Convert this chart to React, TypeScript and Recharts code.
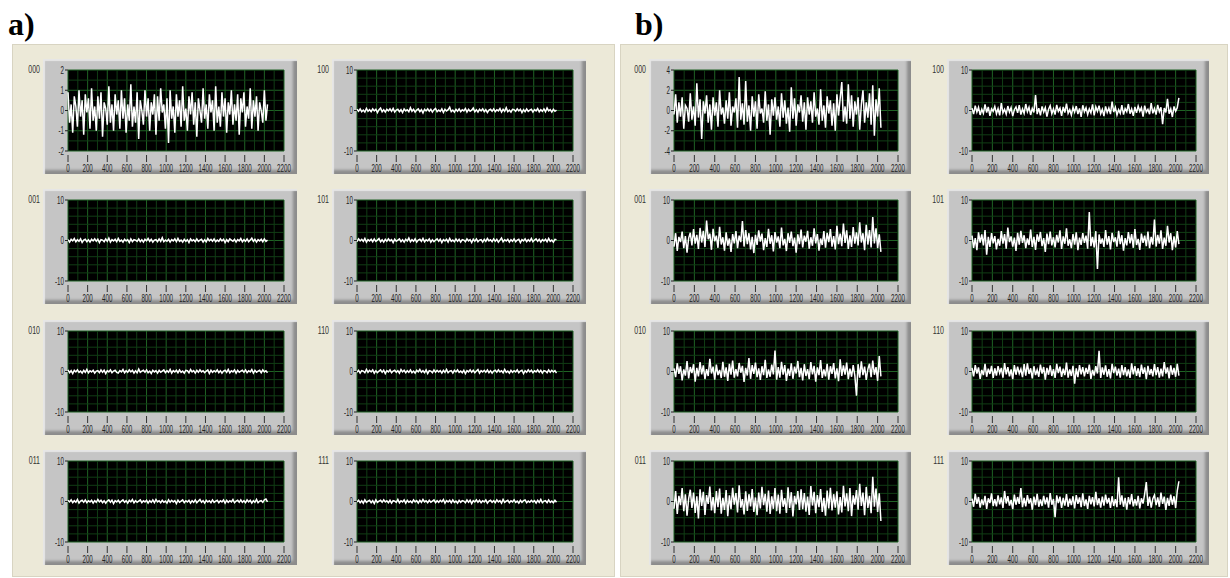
import { LineChart, Line, XAxis, YAxis, CartesianGrid, ReferenceLine } from "recharts";

// one plotted point per 16 acquired samples
const SAMPLE_STEP = 16;

const xTicks = [0, 200, 400, 600, 800, 1000, 1200, 1400, 1600, 1800, 2000, 2200];
const xMinor = [100, 300, 500, 700, 900, 1100, 1300, 1500, 1700, 1900, 2100];

const wideTicks = [-10, 0, 10];
const wideMinor = [-8, -6, -4, -2, 2, 4, 6, 8];
const narrowTicks = [-2, -1, 0, 1, 2];
const narrowMinor = [-1.5, -0.5, 0.5, 1.5];
const midTicks = [-4, -2, 0, 2, 4];
const midMinor = [-3, -1, 1, 3];

// a) channel outputs
const a000 = [
  .9, -.6, .3, -1.1, .7, .2, -.8, 1, -.3, .5, -1.2, .8, -.1, .6, -.9, 1.1,
  -.5, .2, -1, .7, -.4, .9, -1.3, .4, .1, -.7, 1.2, -.6, .3, -1, .8, -.2,
  .5, -.9, 1, -.4, .6, -1.1, .3, -.5, 1.3, -.8, .2, -.6, .9, -1.4, .5, 0,
  -.7, 1, -.3, .6, -1, .4, -.2, .8, -1.2, .7, -.5, 1.1, -.1, .3, -.9, .6,
  -1.6, 1, -.4, .2, -1.1, .8, -.3, .5, -.8, 1.2, -.5, .1, -1, .7, -.2, .9,
  -.7, .4, -1.3, .6, 0, -.6, 1.1, -.4, .3, -.9, .8, -.1, .5, -1, 1.2, -.6,
  .2, -.8, .9, -.3, .6, -1.1, .4, -.2, 1, -.7, .3, -.5, .8, -1.2, .6, -.1,
  .9, -.8, .2, -.4, 1.1, -.9, .5, -.3, .7, -1, .4, 0, -.6, 1, -.5, .3,
];
const a100 = [
  .3, -.2, .4, -.3, .1, -.4, .5, -.2, .2, -.3, .4, -.1, .3, -.5, .2, .6,
  -.3, .2, -.4, .3, -.1, .4, -.2, .5, -.4, .1, .3, -.3, .2, -.5, .4, -.1,
  .2, -.3, .7, -.2, .3, -.4, .1, .4, -.3, .2, -.6, .3, -.1, .4, -.2, .3,
  -.4, .2, .5, -.3, .1, -.2, .4, -.5, .3, -.1, .2, .8, -.3, .1, -.4, .3,
  -.2, .4, -.3, .2, -.1, .5, -.4, .3, -.2, .1, .6, -.3, .2, -.4, .3, -.1,
  .4, -.3, .2, -.5, .1, .3, -.2, .4, -.3, .2, -.1, .5, -.4, .3, -.2, .7,
  -.3, .1, -.4, .3, .2, -.2, .4, -.1, .3, -.5, .2, -.3, .4, -.2, .1, .3,
  -.4, .2, -.1, .5, -.3, .2, -.2, .4, -.3, .6, -.1, .2, -.4, .3, -.2, .1,
];
const a001 = [
  .2, -.4, .3, -.1, .5, -.3, .2, -.2, .4, -.5, .1, .3, -.3, .2, -.4, .3,
  -.1, .4, -.2, .3, -.5, .2, .1, -.3, .4, -.2, .6, -.4, .2, -.1, .3, -.3,
  .5, -.2, .1, -.4, .3, -.1, .2, -.5, .4, -.3, .2, .1, -.2, .4, -.3, .2,
  -.4, .3, -.1, .5, -.2, .3, -.4, .1, .2, -.3, .4, -.2, .7, -.3, .1, -.2,
  .3, -.4, .2, -.1, .4, -.3, .5, -.2, .1, -.4, .3, -.2, .2, -.5, .4, -.1,
  .2, -.3, .4, -.2, .1, .3, -.4, .2, -.3, .5, -.1, .3, -.2, .4, -.3, .1,
  -.2, .4, -.1, .3, -.5, .2, -.3, .4, .1, -.2, .3, -.4, .2, -.1, .5, -.3,
  .2, -.2, .4, -.3, .1, .6, -.2, .3, -.4, .2, -.1, .3, -.3, .4, -.2, .1,
];
const a101 = [
  -.3, .4, -.1, .3, -.2, .5, -.4, .2, -.1, .3, -.3, .4, -.2, .1, .5, -.3,
  .2, -.4, .3, -.2, .4, -.1, .2, -.5, .3, -.2, .1, .4, -.3, .2, -.4, .3,
  -.1, .6, -.3, .2, -.2, .4, -.4, .1, .3, -.2, .5, -.3, .2, -.1, .4, -.4,
  .2, -.3, .1, .4, -.2, .3, -.5, .2, -.1, .3, -.4, .5, -.2, .1, -.3, .4,
  -.2, .3, -.4, .2, .1, -.3, .4, -.1, .2, -.5, .3, -.2, .4, -.3, .1, .2,
  -.4, .3, -.2, .5, -.1, .2, -.3, .4, -.2, .3, -.4, .1, .6, -.3, .2, -.1,
  .3, -.4, .2, -.2, .4, -.3, .1, .3, -.5, .2, -.1, .4, -.3, .2, -.2, .5,
  -.3, .1, .4, -.2, .3, -.4, .2, -.1, .3, -.3, .5, -.2, .1, -.4, .3, .2,
];
const a010 = [
  .4, -.3, .2, -.5, .3, -.1, .4, -.2, .1, -.4, .3, -.2, .5, -.3, .2, -.1,
  .3, -.4, .1, .2, -.3, .4, -.2, .3, -.5, .2, -.1, .4, -.3, .1, .3, -.2,
  -.4, .2, -.1, .5, -.3, .2, -.2, .4, -.1, .3, -.4, .2, -.3, .6, -.2, .1,
  .3, -.2, .4, -.3, .1, -.5, .3, -.1, .2, -.4, .3, -.2, .1, .4, -.3, .2,
  -.2, .5, -.4, .2, -.1, .3, -.3, .4, -.2, .1, -.4, .3, .2, -.3, .5, -.1,
  .2, -.4, .3, -.2, .4, -.1, .2, -.3, .1, .4, -.5, .3, -.2, .2, -.1, .4,
  -.3, .2, -.4, .1, .3, -.2, .5, -.3, .2, -.1, .4, -.4, .3, -.2, .1, .3,
  -.2, .4, -.3, .2, -.1, .5, -.4, .3, -.2, .1, .3, -.3, .4, -.1, .2, -.3,
];
const a110 = [
  -.2, .3, -.4, .2, .1, -.3, .5, -.2, .3, -.1, .4, -.4, .2, -.3, .1, .4,
  -.2, .3, -.5, .2, -.1, .4, -.3, .1, .3, -.2, .2, -.4, .5, -.1, .3, -.3,
  .2, -.2, .4, -.3, .1, -.4, .3, -.1, .5, -.2, .2, -.3, .4, -.5, .2, .1,
  -.3, .4, -.2, .3, -.1, .2, -.4, .3, -.2, .5, -.3, .1, .2, -.4, .3, -.1,
  .4, -.2, .1, -.3, .3, -.5, .2, -.1, .4, -.2, .3, -.3, .1, .5, -.4, .2,
  -.1, .3, -.2, .4, -.3, .2, -.4, .1, .3, -.2, .4, -.1, .2, -.3, .5, -.2,
  .1, -.4, .3, -.2, .2, -.1, .4, -.3, .1, .3, -.5, .2, -.2, .4, -.1, .3,
  -.3, .2, -.1, .4, -.2, .3, -.4, .2, .1, -.3, .4, -.2, .3, -.1, .2, -.4,
];
const a011 = [
  .3, -.1, .4, -.3, .2, -.2, .5, -.4, .1, .3, -.2, .4, -.3, .2, -.1, .3,
  -.4, .2, -.2, .5, -.1, .3, -.3, .2, -.4, .1, .4, -.2, .3, -.5, .2, -.1,
  .3, -.3, .1, .4, -.2, .2, -.4, .3, -.1, .5, -.3, .2, -.2, .1, .4, -.3,
  .2, -.1, .3, -.4, .2, -.2, .4, -.3, .5, -.1, .2, -.3, .3, -.2, .1, -.4,
  .4, -.2, .3, -.1, .2, -.5, .3, -.2, .1, .4, -.3, .2, -.1, .3, -.4, .2,
  -.2, .4, -.3, .1, .5, -.2, .2, -.4, .3, -.1, .2, -.3, .4, -.2, .1, .3,
  -.3, .2, -.1, .4, -.4, .3, -.2, .2, -.1, .5, -.3, .1, .3, -.2, .4, -.2,
  .2, -.3, .4, -.1, .3, -.4, .2, -.2, .5, -.3, .1, .2, -.2, .4, .6, -.1,
];
const a111 = [
  -.1, .3, -.3, .2, -.4, .4, -.2, .1, .3, -.3, .2, -.5, .4, -.2, .1, .3,
  -.2, .4, -.1, .2, -.3, .3, -.4, .2, .1, -.2, .5, -.3, .2, -.1, .4, -.4,
  .3, -.2, .1, -.3, .4, -.1, .2, -.4, .3, -.2, .5, -.1, .2, -.3, .3, -.2,
  .1, .4, -.3, .2, -.2, .3, -.1, .5, -.4, .2, -.1, .3, -.3, .4, -.2, .1,
  -.4, .3, -.2, .2, .1, -.3, .4, -.2, .3, -.5, .2, -.1, .4, -.2, .3, -.3,
  .2, -.1, .4, -.4, .1, .3, -.2, .2, -.3, .4, -.1, .2, -.4, .5, -.2, .1,
  .3, -.3, .2, -.1, .4, -.2, .1, -.4, .3, -.2, .2, .4, -.3, .1, -.2, .3,
  -.1, .2, -.4, .3, -.2, .5, -.3, .1, .2, -.3, .4, -.2, .1, -.3, .3, -.2,
];

// b) channel outputs
const b000 = [
  -.4, 1.6, -1.2, .8, -.6, 1.3, -1.8, .5, .2, -1.1, 1.7, -.9, .4, -1.5, 2.7, -.7,
  1.1, -2.8, .9, -.3, 1.5, -1.2, .6, -1.9, 1.3, -.5, .8, -1.6, 2, -.4, .3, -1.3,
  1, -.8, 1.8, -1.5, .4, -.2, 1.2, -1.7, 3.3, -.9, .7, -1.4, 2.9, -1.1, .5, -2,
  1.4, -.6, .9, -1.8, 1.6, -.3, .2, -1.2, 1.9, -1, .6, -2.4, 1.1, -.5, 1.3, -.9,
  .4, -1.6, 1.7, -.7, 1, -1.3, .3, -2.1, 2.3, -.8, 1.2, -1.5, .6, -.2, 1.5, -1.1,
  .8, -1.9, 1.3, -.4, .9, -1.2, 1.8, -.6, .2, -1.4, 2.1, -1, .5, -1.7, 1.4, -.3,
  1, -1.5, .7, -2, 1.6, -.5, 1.2, 2.8, -1.1, .4, -1.3, 2.6, -.8, 1.5, -1.6, .9,
  -.4, 1.3, -1.9, .6, 2, -1.2, .8, -.7, 1.7, -1.4, 2.5, -2.5, 1.1, -.6, 2.2, -1.7,
];
const b100 = [
  .6, -.9, 1.2, -.4, .8, -1.1, .3, -.7, 1.5, -.5, .9, -1.3, .4, -.2, 1, -.8,
  .5, -1.2, 1.8, -.6, .3, -.9, 1.1, -.4, .7, -1.4, .2, .9, -.6, 1.3, -1, .4,
  -.7, 1.6, -.3, .8, -1.1, .5, -.5, 3.8, -.9, .6, -1.2, 1, -.4, .7, -1.5, .3,
  1.2, -.8, .4, -1, 1.4, -.2, .6, -1.3, .9, -.5, 1.7, -.7, .2, -1.1, .8, -.4,
  1.1, -.9, .5, -1.6, 1.3, -.3, .7, -1, .4, -.6, 1.5, -1.2, .9, -.2, 1.2, -.8,
  .3, -1.4, 1, -.5, .6, -.9, 2.2, -.4, .8, -1.1, .2, -.7, 1.3, -1, .5, -.3,
  1.6, -.8, .4, -1.3, .9, -.6, 1.1, -.2, .7, -1.5, 1.2, -.4, .3, -.9, 1.8, -.7,
  .5, -1, 1.4, -.3, .8, -3.4, .6, -.5, 2.9, -.8, .4, -1.6, 1, -.2, .7, 3.1,
];
const b001 = [
  -1.5, 1.8, -2.6, .9, -.4, 2.2, -1.9, 1.1, -3, .6, 1.9, -1.2, 2.8, -.8, 1.4, -2.1,
  3.1, -.5, 2.4, -1.6, 4.9, .3, 1.7, -2.3, 2.9, -.2, 1.2, -1.8, 3.4, -1, .8, -2.5,
  2, -1.3, .5, -2.8, 1.6, -.7, 2.3, -1.9, 1.2, -.4, 4.8, -1.5, 2.6, -.9, 1.8, -2.2,
  .9, -3.1, 1.4, -1.1, 2.5, -.3, 1.7, -2.4, .6, -1.6, 2.9, -.8, 1.3, -2.7, 2.1, -.5,
  1, -1.9, 3.2, -1.2, .4, -2.6, 1.8, -.6, 2.2, -1.4, .7, -3, 1.5, -.9, 2.7, -1.7,
  1.2, -.3, 2.4, -2, .8, -1.3, 3, -.7, 1.6, -2.5, .5, -1.1, 2.3, -1.8, 1.9, -.4,
  2.8, -1.5, 1.1, -2.2, 3.6, -.9, 1.7, -1.4, 4.2, -.6, 2.5, -2.1, 1.3, -1.6, 3.3, -.8,
  2, -1.2, 4.5, -.5, 1.8, -2.4, 3.9, -1, 2.6, -1.7, 5.8, -.7, 3, -1.9, 1.5, -2.8,
];
const b101 = [
  1.2, -1.8, .6, -2.4, 2, -.5, 1.5, -1.2, 2.6, -3.5, .9, -1.6, 1.8, -.7, 1.1, -2.2,
  .4, -1.3, 2.3, -.8, 1.6, -2, 3.2, -.4, 1, -1.5, .7, -2.6, 1.9, -1, 2.4, -.6,
  1.3, -1.9, .5, -1.1, 2.7, -1.6, .9, -2.3, 1.5, -.3, 2.1, -1.4, .6, -2.8, 1.7, -.9,
  2.2, -1.2, .8, -1.7, 1.4, -.5, 2.5, -2.1, 1, -.8, 3, -1.3, .3, -1.9, 1.6, -1,
  2, -2.4, .7, -1.1, 1.8, -.6, 1.2, -2, 7, -1.4, .9, -1.7, 2.3, -7, 1.5, -.8,
  .5, -1.6, 2.6, -1, 1.1, -2.2, 1.9, -.4, .8, -1.5, 2.4, -.9, 1.3, -2.5, .6, -1.2,
  2.1, -.7, 1.6, -1.8, 2.8, -1.1, .4, -2.3, 1.7, -.6, 1.2, -1.4, 2.2, -1.9, .9, -1,
  5.2, -1.5, 1.4, -.8, 2.5, -2.1, .7, -1.3, 3.6, -.5, 1.8, -2.4, 1, -1.7, 2.3, -.9,
];
const b010 = [
  .8, -1.4, 2, -.6, 1.3, -2.2, .5, -1, 2.6, -1.7, 1.1, -.4, 1.8, -2.5, .9, -1.2,
  2.3, -.7, 1.5, -1.9, .6, -1.1, 3.1, -.5, 1.2, -2, 1.7, -.9, .4, -1.6, 2.4, -1.3,
  1, -2.3, 1.9, -.8, 2.7, -1.5, .6, -1.2, 2.1, -.3, 1.4, -2.6, .9, -1, 3.3, -1.8,
  1.6, -.6, 2.2, -1.4, .8, -2.1, 1.3, -.9, 2.9, -1.6, .5, -1.3, 1.7, -.7, 5.2, -2,
  1.1, -1.5, 2.4, -.8, 1.6, -2.3, .7, -1.1, 2, -1.8, 1.2, -.5, 2.6, -1.4, .9, -2.2,
  1.8, -1.1, .6, -1.9, 2.3, -.7, 1.4, -2.5, 1, -.9, 2.8, -1.6, .5, -1.2, 1.9, -2,
  1.3, -.6, 2.1, -1.7, .8, -2.4, 3, -1.1, 1.5, -.8, 2.2, -1.9, .7, -1.3, 1.6, -1,
  -6, 1.8, -1.5, 2.5, -.9, 1.2, -2.1, .6, 1.9, -1.4, 2.7, -.8, 1.1, -2.3, 3.8, -1.2,
];
const b110 = [
  .9, -1.2, 1.6, -.5, 1, -1.8, .4, -.9, 1.9, -1.3, .7, -.6, 1.4, -1.6, .8, -1,
  1.3, -.4, .9, -1.5, 2.1, -.7, 1.1, -1.2, .5, -1.9, 1.6, -.8, 1.2, -.5, .6, -1.4,
  1.8, -1, 2, -.6, .8, -1.7, 1.3, -.9, .4, -1.3, 1.7, -.5, 1.1, -2, .9, -.8,
  1.5, -1.1, .6, -1.6, 1.9, -.4, 1.2, -1.3, .7, -.9, 2.2, -1.5, .5, -1.1, 1.4, -3,
  .8, -1.4, 1.6, -.7, 1.1, -1.2, .9, -.6, 1.7, -1.8, .4, -1, 1.3, -.5, 5.1, -1.6,
  1, -.8, 1.5, -1.3, .6, -1.7, 1.9, -.4, 1.2, -1, .7, -1.5, 1.6, -.9, 1.1, -1.2,
  .5, -1.6, 2, -.7, 1.3, -1.1, .8, -1.4, 1.7, -.6, 1, -1.9, 1.4, -.8, .6, -1.2,
  1.8, -.9, 1.1, -1.5, .7, -1.2, 2.3, -.5, 1, -1.7, 1.5, -.8, .9, -1.3, 1.9, -1,
];
const b011 = [
  -1.8, 2.6, -3.1, 1.4, -.9, 3.3, -2.4, 1.8, -3.5, .7, 2.9, -1.6, 2.2, -2.8, 1.3, -4.2,
  3, -1.1, 2.4, -3.3, 1.6, -.6, 3.7, -2.2, 1.1, -2.9, 2.6, -1.4, 3.2, -3, .9, -2.1,
  2.8, -3.6, 1.5, -1.9, 3.4, -.8, 2.1, -2.7, 4, -1.5, .6, -3.2, 2.5, -2.3, 1.8, -1.2,
  3.1, -2.6, 1, -3.4, 2.2, -1.7, 3.6, -.9, 1.9, -2.5, 2.7, -3.1, 1.3, -1.8, 3.3, -2.4,
  1.7, -3, 2.9, -1.3, .8, -2.8, 3.5, -1.6, 2.3, -3.7, 1.4, -.7, 2.6, -2.1, 3, -1.9,
  2.1, -2.5, 1.2, -3.3, 3.8, -1, 2.4, -2.9, 1.6, -1.4, 3.1, -2.6, .9, -3.5, 2.7, -1.7,
  3.4, -2.2, 1.8, -1.5, 2.5, -3.2, 1.1, -2.7, 3.9, -1.2, 2, -2.4, 3.3, -3.6, 1.5, -.8,
  2.8, -2, 4.4, -1.1, 2.2, -3.4, 3.6, -1.6, 1.4, -2.9, 6.1, -1.3, 3.2, -2.6, 2, -4.8,
];
const b111 = [
  .7, -1.3, 1.9, -.6, 1.1, -1.5, .5, -.9, 1.4, -1.8, .8, -.4, 2, -1.1, .6, -1.2,
  1.5, -.7, 1, -1.6, 2.6, -.5, 1.3, -1, .4, -1.9, 1.7, -.8, 1.1, -.6, 3.3, -1.4,
  .9, -1.2, 1.6, -.5, .8, -2, 1.2, -.9, 1.9, -1.3, .5, -1.1, 1.4, -.7, 1, -1.5,
  2.1, -.8, .6, -3.9, 1.5, -.4, 1.2, -1.6, .9, -1, 1.8, -1.3, .7, -.9, 1.3, -1.7,
  1.6, -.6, 1, -1.4, 2, -1.1, .5, -1.8, 1.4, -.7, 1.1, -1.2, 2.4, -.9, .8, -1.5,
  1.2, -1, 1.7, -.5, .9, -1.6, 1.3, -1.1, .6, -1.4, 6, -.8, 1.5, -1.3, .9, -2,
  1.1, -.7, 1.8, -1.2, .6, -1, 1.4, -1.7, .8, -.5, 1.9, 4.8, -1.1, 1.2, -1.5, .7,
  1.6, -.9, 1, -1.3, 2.2, -.6, 1.2, -2.1, .9, -1.1, 1.7, -.8, 1.3, -1.6, 2.6, 5,
];

const PANEL_BG = "#ece9d8";
const MINOR = "#113d15";
const MAJOR = "#1f6324";
const FRAME_H = 115;
const ROW_TOPS = [59, 189, 320, 450];
const smallFont = "'Liberation Sans', Arial, sans-serif";

type FrameProps = {
  label: string;
  values: number[];
  yTicks: number[];
  yMinor: number[];
  left: number;
  top: number;
  width: number;
};

const XTick = (props: any) => {
  const { x, y, payload } = props;
  return (
    <g transform={`translate(${x},${y})`}>
      <line x1={0} x2={0} y1={2} y2={9} stroke="#333" />
      <text y={19} textAnchor="middle" transform="scale(0.62,1)" fontSize={10} fill="#222" fontFamily={smallFont}>
        {payload.value}
      </text>
    </g>
  );
};

const YTick = (props: any) => {
  const { x, y, payload } = props;
  return (
    <g transform={`translate(${x},${y})`}>
      <text dy="0.35em" textAnchor="end" transform="scale(0.62,1)" fontSize={10} fill="#222" fontFamily={smallFont}>
        {payload.value}
      </text>
    </g>
  );
};

function Frame({ label, values, yTicks, yMinor, left, top, width }: FrameProps) {
  const data = values.map((v, i) => ({ t: i * SAMPLE_STEP, v }));
  return (
    <>
      <div
        style={{
          position: "absolute",
          left: left - 40,
          top: top + 5,
          width: 37,
          textAlign: "right",
          fontFamily: smallFont,
          fontSize: 10,
          color: "#333",
          transform: "scaleX(0.7)",
          transformOrigin: "right top",
        }}
      >
        {label}
      </div>
      <div
        style={{
          position: "absolute",
          left,
          top,
          width,
          height: FRAME_H,
          background: "#c5c5c5",
          boxShadow: "inset 2px 2px 1px #e6e6e6, inset -4px -4px 3px #8c8c8c",
        }}
      >
        <LineChart width={width} height={FRAME_H} data={data} margin={{ top: 11, right: 13, bottom: 0, left: 0 }}>
          <CartesianGrid fill="#000" stroke={MAJOR} />
          <XAxis
            dataKey="t"
            type="number"
            domain={[0, 2200]}
            ticks={xTicks}
            interval={0}
            height={23}
            tickSize={0}
            tickLine={false}
            axisLine={false}
            tick={XTick}
          />
          <YAxis
            type="number"
            domain={[yTicks[0], yTicks[yTicks.length - 1]]}
            ticks={yTicks}
            interval={0}
            width={25}
            tickSize={3}
            tickMargin={1}
            axisLine={false}
            tickLine={{ stroke: "#222" }}
            tick={YTick}
            allowDataOverflow
          />
          {xMinor.map((v) => (
            <ReferenceLine key={"x" + v} x={v} stroke={MINOR} />
          ))}
          {yMinor.map((v) => (
            <ReferenceLine key={"y" + v} y={v} stroke={MINOR} />
          ))}
          <Line type="linear" dataKey="v" stroke="#fff" strokeWidth={1.5} dot={false} isAnimationActive={false} />
        </LineChart>
      </div>
    </>
  );
}

const panelA = [
  { label: "000", values: a000, yTicks: narrowTicks, yMinor: narrowMinor },
  { label: "100", values: a100, yTicks: wideTicks, yMinor: wideMinor },
  { label: "001", values: a001, yTicks: wideTicks, yMinor: wideMinor },
  { label: "101", values: a101, yTicks: wideTicks, yMinor: wideMinor },
  { label: "010", values: a010, yTicks: wideTicks, yMinor: wideMinor },
  { label: "110", values: a110, yTicks: wideTicks, yMinor: wideMinor },
  { label: "011", values: a011, yTicks: wideTicks, yMinor: wideMinor },
  { label: "111", values: a111, yTicks: wideTicks, yMinor: wideMinor },
];

const panelB = [
  { label: "000", values: b000, yTicks: midTicks, yMinor: midMinor },
  { label: "100", values: b100, yTicks: wideTicks, yMinor: wideMinor },
  { label: "001", values: b001, yTicks: wideTicks, yMinor: wideMinor },
  { label: "101", values: b101, yTicks: wideTicks, yMinor: wideMinor },
  { label: "010", values: b010, yTicks: wideTicks, yMinor: wideMinor },
  { label: "110", values: b110, yTicks: wideTicks, yMinor: wideMinor },
  { label: "011", values: b011, yTicks: wideTicks, yMinor: wideMinor },
  { label: "111", values: b111, yTicks: wideTicks, yMinor: wideMinor },
];

const panelTitle = (left: number): React.CSSProperties => ({
  position: "absolute",
  left,
  top: 8,
  fontFamily: "'Liberation Serif', 'Times New Roman', serif",
  fontWeight: "bold",
  fontSize: 32,
  lineHeight: "32px",
  color: "#000",
});

const panelBox = (left: number, width: number): React.CSSProperties => ({
  position: "absolute",
  left,
  top: 44,
  width,
  height: 533,
  background: PANEL_BG,
  border: "1px solid #d8d4c2",
  boxSizing: "border-box",
});

export default function App() {
  return (
    <div style={{ position: "absolute", left: 0, top: 0, width: 1230, height: 578, background: "#fff", overflow: "hidden" }}>
      <div style={panelTitle(8)}>a)</div>
      <div style={panelTitle(635)}>b)</div>
      <div style={panelBox(12, 603)} />
      <div style={panelBox(620, 608)} />
      {panelA.map((f, i) => (
        <Frame key={"a" + f.label} {...f} left={i % 2 === 0 ? 43 : 332} top={ROW_TOPS[Math.floor(i / 2)]} width={254} />
      ))}
      {panelB.map((f, i) => (
        <Frame key={"b" + f.label} {...f} left={i % 2 === 0 ? 649 : 947} top={ROW_TOPS[Math.floor(i / 2)]} width={262} />
      ))}
    </div>
  );
}
